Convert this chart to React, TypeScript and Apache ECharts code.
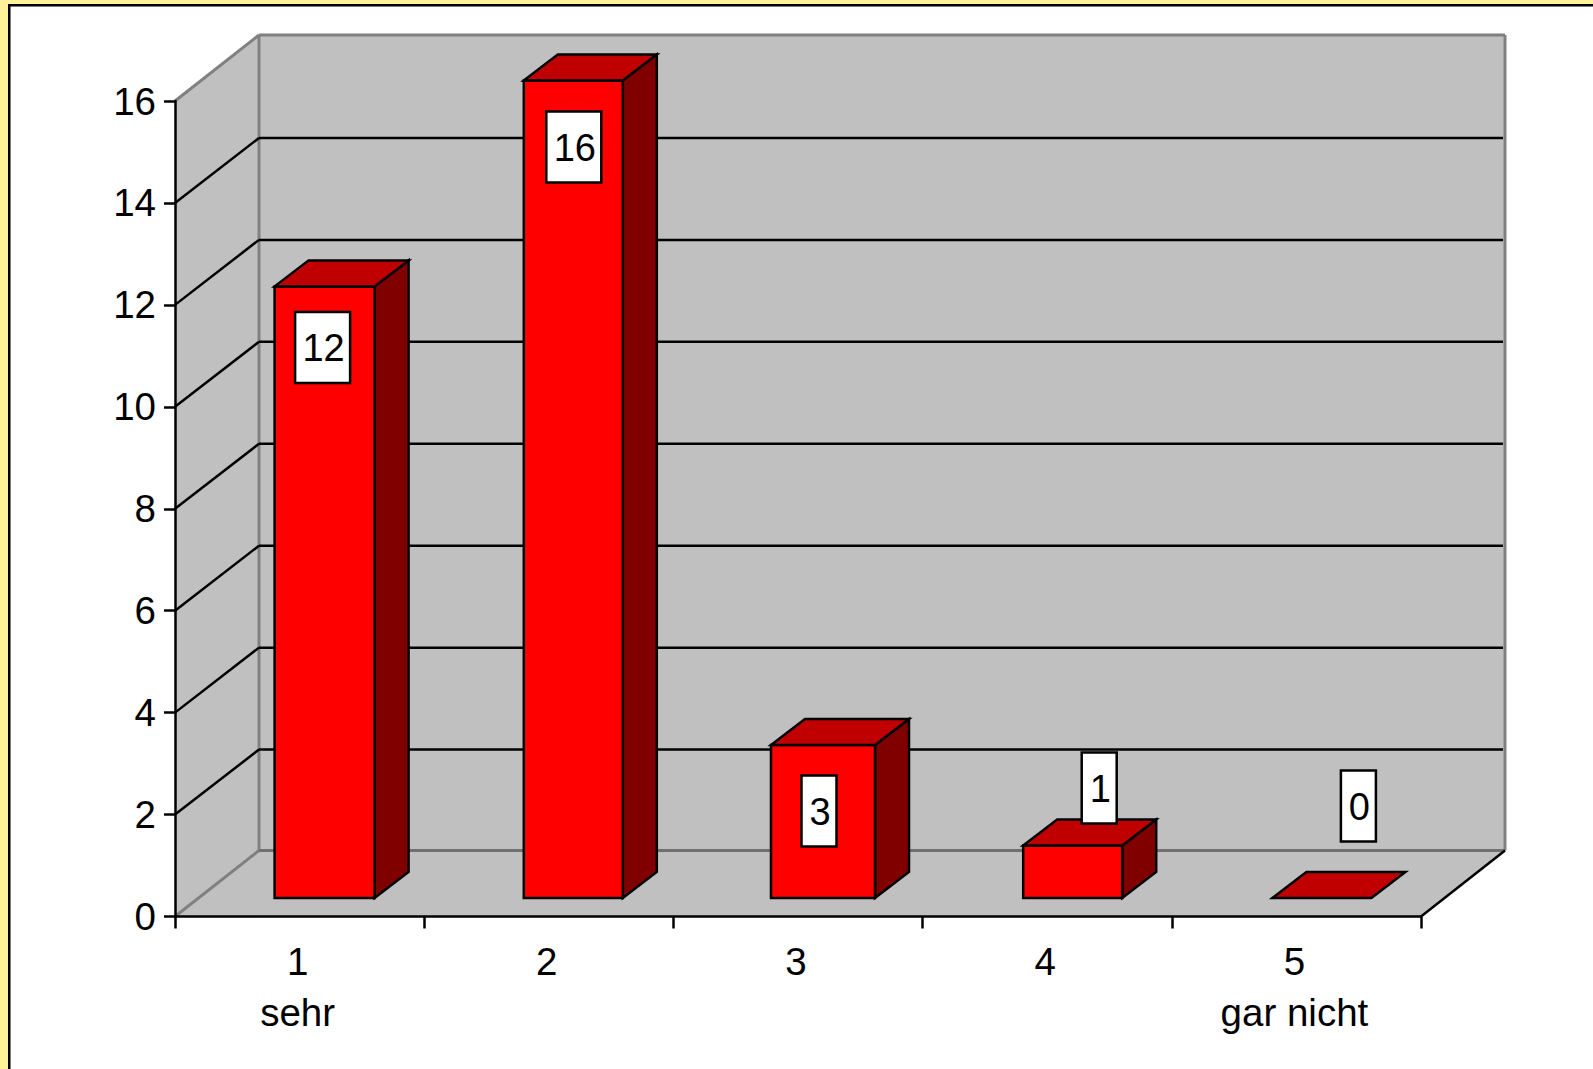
import React, { useEffect, useRef } from "react";
import * as echarts from "echarts";

const categories = ["1\nsehr", "2", "3", "4", "5\ngar nicht"];
const answers = [12, 16, 3, 1, 0];
const yTicks = [0, 2, 4, 6, 8, 10, 12, 14, 16];
const yMax = 16;

const FONT = '"Liberation Sans", Arial, sans-serif';
const WIDTH = 1593;
const HEIGHT = 1069;
const WALL_DX = 84;
const WALL_DY = -66;
const GRID_DY = -65;
const BAR_DX = 25;
const BAR_DY = -18.5;
const BAR_W = 100;
const BAR_DEPTH_X = 34;
const BAR_DEPTH_Y = -26;
const STROKE = 2.5;
const labelBoxes = [
  { dx: -2, dy: 61, w: 55 },
  { dx: 0, dy: 64.5, w: 55 },
  { dx: -4, dy: 66, w: 35 },
  { dx: 27, dy: -59, w: 35 },
  { dx: 37, dy: -92, w: 35 },
];
// the reference's bars are snapped to slightly uneven pixels
const barNudges = [
  { l: 0, r: 0, t: 0 },
  { l: 0, r: -1, t: -2 },
  { l: -2, r: 2, t: 0 },
  { l: 1, r: 0, t: -1.5 },
  { l: 1, r: 0, t: 0 },
];
const LABEL_H = 71;

const poly = (points: number[][], fill: string, stroke: string, lineWidth = STROKE) => ({
  type: "polygon",
  shape: { points },
  style: { fill, stroke, lineWidth, lineJoin: "miter" },
});
const seg = (x1: number, y1: number, x2: number, y2: number, stroke: string, lineWidth = STROKE) => ({
  type: "line",
  shape: { x1, y1, x2, y2 },
  style: { stroke, lineWidth },
});

function renderWalls(params: any) {
  const c = params.coordSys;
  const l = c.x, r = c.x + c.width, t = c.y, b = c.y + c.height;
  const grey = "#808080";
  return {
    type: "group",
    children: [
      poly([[l, t], [l + WALL_DX, t + WALL_DY], [l + WALL_DX, b + WALL_DY], [l, b]], "#c0c0c0", "none", 0),
      poly([[l + WALL_DX, t + WALL_DY], [r + WALL_DX, t + WALL_DY], [r + WALL_DX, b + WALL_DY], [l + WALL_DX, b + WALL_DY]], "#c0c0c0", "none", 0),
      poly([[l, b], [r, b], [r + WALL_DX, b + WALL_DY], [l + WALL_DX, b + WALL_DY]], "#c0c0c0", "none", 0),
      seg(l, t, l + WALL_DX, t + WALL_DY, grey, 3),
      seg(l, b, l + WALL_DX, b + WALL_DY, grey, 3),
      seg(l + WALL_DX, t + WALL_DY, r + WALL_DX, t + WALL_DY, grey, 3),
      seg(l + WALL_DX, t + WALL_DY, l + WALL_DX, b + WALL_DY, grey, 3),
      seg(r + WALL_DX, t + WALL_DY, r + WALL_DX, b + WALL_DY, grey, 3),
      seg(l + WALL_DX, b + WALL_DY, r + WALL_DX, b + WALL_DY, "#707070", 3),
      seg(r, b, r + WALL_DX, b + WALL_DY, "#000"),
    ],
  };
}

function renderGrid(params: any, api: any) {
  const c = params.coordSys;
  const y = api.coord([0, api.value(0)])[1];
  const l = c.x, r = c.x + c.width;
  return {
    type: "group",
    children: [
      seg(l, y, l + WALL_DX, y + GRID_DY, "#000"),
      seg(l + WALL_DX, y + GRID_DY, r + WALL_DX - 2, y + GRID_DY, "#000"),
    ],
  };
}

function renderBar(params: any, api: any) {
  const value = api.value(1);
  const top = api.coord([api.value(0), value]);
  const base = api.coord([api.value(0), 0]);
  const cx = top[0] + BAR_DX;
  const n = barNudges[params.dataIndex];
  const x0 = cx - BAR_W / 2 + n.l, x1 = cx + BAR_W / 2 + n.r;
  const yRaw = top[1] + BAR_DY;
  const yT = yRaw + n.t, yB = base[1] + BAR_DY;
  const box = labelBoxes[params.dataIndex];
  const lx = cx + box.dx, ly = yRaw + box.dy;
  const children: any[] = [];
  if (value > 0) {
    children.push(poly([[x1, yT], [x1 + BAR_DEPTH_X, yT + BAR_DEPTH_Y], [x1 + BAR_DEPTH_X, yB + BAR_DEPTH_Y], [x1, yB]], "#800000", "#000"));
    children.push(poly([[x0, yT], [x1, yT], [x1, yB], [x0, yB]], "#ff0000", "#000"));
  }
  children.push(poly([[x0, yT], [x1, yT], [x1 + BAR_DEPTH_X, yT + BAR_DEPTH_Y], [x0 + BAR_DEPTH_X, yT + BAR_DEPTH_Y]], "#c00000", "#000"));
  children.push({
    type: "rect",
    shape: { x: lx - box.w / 2, y: ly - LABEL_H / 2, width: box.w, height: LABEL_H },
    style: { fill: "#fff", stroke: "#000", lineWidth: STROKE },
  });
  children.push({
    type: "text",
    style: {
      text: String(value),
      x: lx + 1,
      y: ly + 1,
      align: "center",
      verticalAlign: "middle",
      fill: "#000",
      font: `38px ${FONT}`,
    },
  });
  return { type: "group", children };
}

export default function App() {
  const ref = useRef<HTMLDivElement>(null);
  useEffect(() => {
    const chart = echarts.init(ref.current!, undefined, { renderer: "svg" });
    chart.setOption({
      animation: false,
      backgroundColor: "#fff09a",
      graphic: [
        {
          type: "rect",
          z: -10,
          silent: true,
          shape: { x: 9.25, y: 5.25, width: WIDTH + 40, height: HEIGHT + 40 },
          style: { fill: "#fff", stroke: "#000", lineWidth: 2.5 },
        },
      ],
      grid: { left: 175, top: 101, width: 1246, height: 815.5, containLabel: false },
      xAxis: {
        type: "category",
        data: categories,
        z: 10,
        axisLine: { lineStyle: { color: "#000", width: STROKE } },
        axisTick: { show: true, alignWithLabel: false, length: 12, lineStyle: { color: "#000", width: STROKE } },
        axisLabel: { color: "#000", fontFamily: FONT, fontSize: 38.5, lineHeight: 51, margin: 19.5, padding: [0, 4, 0, 0], interval: 0 },
      },
      yAxis: {
        type: "value",
        min: 0,
        max: yMax,
        interval: 2,
        z: 10,
        axisLine: { show: true, lineStyle: { color: "#000", width: STROKE } },
        axisTick: { show: true, length: 11, lineStyle: { color: "#000", width: STROKE } },
        axisLabel: { color: "#000", fontFamily: FONT, fontSize: 38.5, margin: 19 },
        splitLine: { show: false },
      },
      series: [
        { type: "custom", coordinateSystem: "cartesian2d", renderItem: renderWalls, data: [[0]], z: 1, silent: true },
        {
          type: "custom",
          coordinateSystem: "cartesian2d",
          renderItem: renderGrid,
          data: yTicks.filter((v) => v > 0 && v < yMax).map((v) => [v]),
          encode: { y: 0 },
          z: 2,
          silent: true,
        },
        {
          type: "custom",
          coordinateSystem: "cartesian2d",
          renderItem: renderBar,
          data: answers.map((v, i) => [i, v]),
          encode: { x: 0, y: 1 },
          z: 3,
          silent: true,
        },
      ],
    });
    return () => chart.dispose();
  }, []);
  return <div ref={ref} style={{ position: "absolute", left: 0, top: 0, width: WIDTH, height: HEIGHT }} />;
}
